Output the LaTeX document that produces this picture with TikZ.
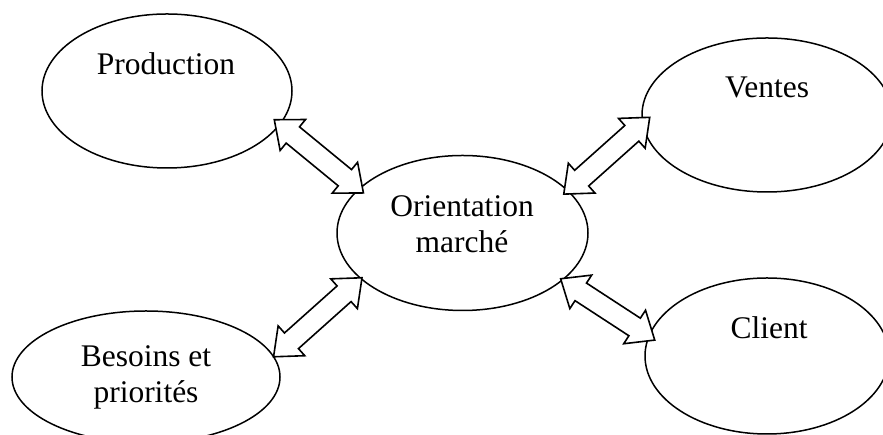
\documentclass[tikz,border=0pt]{standalone}
\usepackage{fontspec}
\setmainfont{Liberation Serif}
\usetikzlibrary{shapes.geometric,calc}
\tikzset{
  oval/.style={ellipse, draw, line width=1.5pt, inner sep=0pt, outer sep=0pt},
  lbl/.style={font=\fontsize{31.5}{36.5}\selectfont, align=center, anchor=base, inner sep=0pt},
  barrowstyle/.style={draw, fill=white, line width=1.6pt, line join=miter}
}
\newcommand\blockarrow[2]{%
  \path let \p1=($(#2)-(#1)$), \n1={atan2(\y1,\x1)}, \n2={veclen(\x1,\y1)} in
    \pgfextra{\xdef\baang{\n1}\xdef\balen{\n2}};
  \begin{scope}[shift={(#1)}, rotate=\baang]
    \draw[barrowstyle] (0,0) -- (24,20) -- (24,10.5) -- ({\balen-24},10.5) -- ({\balen-24},20)
      -- (\balen,0) -- ({\balen-24},-20) -- ({\balen-24},-10.5) -- (24,-10.5) -- (24,-20) -- cycle;
  \end{scope}}
\begin{document}
\begin{tikzpicture}[x=1pt,y=1pt]
\useasboundingbox (0,0) rectangle (883,435);
\clip (0,0) rectangle (883,435);
% ellipses
\node[oval, minimum width=250, minimum height=154] (prod) at (167,344) {};
\node[oval, minimum width=251, minimum height=155] (orient) at (462.5,202) {};
\node[oval, minimum width=250, minimum height=154] (ventes) at (767,320) {};
\node[oval, minimum width=244, minimum height=156] (client) at (767,79) {};
\node[oval, minimum width=268, minimum height=132] (besoin) at (146,58) {};
% labels
\node[lbl] (prodtxt) at (166,360) {Production};
\node[lbl] (orienttxt) at (462,182) {Orientation\\marché};
\node[lbl] (ventestxt) at (767,337) {Ventes};
\node[lbl] (clienttxt) at (769,96) {Client};
\node[lbl] (besointxt) at (146,32) {Besoins et\\priorités};
% arrow ends
\coordinate (a1s) at ($(prod.center)!0.936!(prod.-15.2)$);
\coordinate (a1e) at ($(orient.center)!0.943!(orient.158)$);
\coordinate (a2s) at ($(besoin.center)!1.0!(besoin.9.2)$);
\coordinate (a2e) at ($(orient.center)!0.987!(orient.204.9)$);
\coordinate (a3s) at ($(orient.center)!0.95!(orient.21.1)$);
\coordinate (a3e) at ($(ventes.center)!0.936!(ventes.181.5)$);
\coordinate (a4s) at ($(orient.center)!0.98!(orient.-25.9)$);
\coordinate (a4e) at ($(client.center)!0.94!(client.172.9)$);
% block arrows
\blockarrow{a1s}{a1e}
\blockarrow{a2s}{a2e}
\blockarrow{a3s}{a3e}
\blockarrow{a4s}{a4e}
\end{tikzpicture}
\end{document}
